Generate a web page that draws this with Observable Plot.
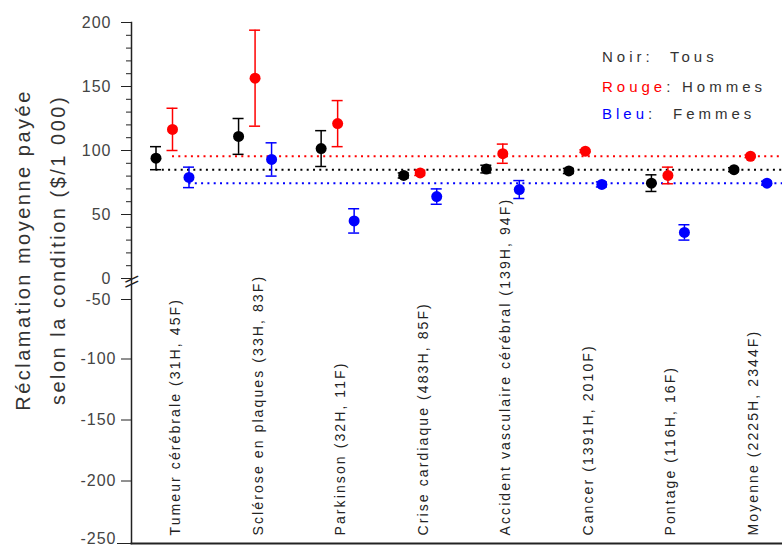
<!DOCTYPE html>
<html>
<head>
<meta charset="utf-8">
<script src="https://cdn.jsdelivr.net/npm/d3@7"></script>
<script src="https://cdn.jsdelivr.net/npm/@observablehq/plot@0.6"></script>
<style>
  body { margin: 0; background: #fff; overflow: hidden; }
  #wrap { position: relative; width: 782px; height: 548px; font-family: "Liberation Sans", Arial, sans-serif; }
  #legend div { position: absolute; font-size: 15px; letter-spacing: 4px; color: #333; white-space: nowrap; line-height: 15px; }
</style>
</head>
<body>
<div id="wrap"><div id="chart"></div><div id="legend"></div></div>
<script>
const categories = [
  "Tumeur cérébrale (31H, 45F)",
  "Sclérose en plaques (33H, 83F)",
  "Parkinson (32H, 11F)",
  "Crise cardiaque (483H, 85F)",
  "Accident vasculaire cérébral (139H, 94F)",
  "Cancer (1391H, 2010F)",
  "Pontage (116H, 16F)",
  "Moyenne (2225H, 2344F)"
];
const tous      = [94, 111, 101.5, 80.5, 85.5, 84, 74.5, 85];
const tousErr   = [9, 14, 14, 2, 3, 2, 6.5, 1.5];
const hommes    = [116.5, 156.5, 121, 82.5, 97.5, 99.5, 80.5, 95.5];
const hommesErr = [16.5, 37.5, 18, 2, 7.5, 1, 6.5, 1];
const femmes    = [79, 93, 45, 64, 69.5, 73.5, 36, 74.5];
const femmesErr = [8, 13, 9.5, 6, 7, 2, 6, 1.5];

const yTicksUpper = [-50, 0, 50, 100, 150, 200];
const yTicksLower = [-200, -150, -100];
const yTickBottom = [-250];
const yMinorTicks = [10, 20, 30, 40, 60, 70, 80, 90, 110, 120, 130, 140, 160, 170, 180, 190];
const breakMarks = [0, -12];

const legendNames  = ["Noir", "Rouge", "Bleu"];
const legendValues = ["Tous", "Hommes", "Femmes"];
const seriesColors = ["#000000", "#ff0000", "#0000ff"];
const yTitle = "Réclamation moyenne payée\nselon la condition ($/1 000)";

const series = [
  {values: tous, err: tousErr, color: seriesColors[0], dx: -16.5},
  {values: hommes, err: hommesErr, color: seriesColors[1], dx: 0},
  {values: femmes, err: femmesErr, color: seriesColors[2], dx: 16.5}
];

const marks = [];
marks.push(Plot.frame({anchor: "left", stroke: "#222", strokeWidth: 1.5}));
marks.push(Plot.frame({anchor: "bottom", stroke: "#222", strokeWidth: 2}));
marks.push(Plot.axisY({ticks: yTicksUpper, tickSize: 10, tickPadding: 10, tickFormat: d => String(d), fontSize: 16, label: null, anchor: "left", stroke: "#222", fill: "#444"}));
marks.push(Plot.axisY({ticks: yTicksLower, tickSize: 10, tickPadding: 5, tickFormat: d => String(d), fontSize: 16, label: null, anchor: "left", stroke: "#222", fill: "#444", dy: -1.5}));
marks.push(Plot.axisY({ticks: yTickBottom, tickSize: 14, tickFormat: () => "", label: null, anchor: "left", stroke: "#222"}));
marks.push(Plot.axisY({ticks: yTickBottom, tickSize: 0, tickPadding: 15, tickFormat: d => String(d), fontSize: 16, label: null, anchor: "left", stroke: "none", fill: "#444", dy: -5}));
marks.push(Plot.axisY({ticks: yMinorTicks, tickSize: 5, tickFormat: () => "", label: null, anchor: "left", stroke: "#222"}));
marks.push(Plot.text(breakMarks, {y: d => d, frameAnchor: "left", text: () => "—", textAnchor: "middle", lineAnchor: "middle", rotate: -25, fontSize: 14, fontWeight: "bold", fill: "#222"}));

// reference (average) dotted lines, from the first group to the right edge
series.forEach(s => {
  const avg = s.values[s.values.length - 1];
  marks.push(Plot.ruleY([avg], {
    y: d => d,
    x1: () => categories[0],
    x2: () => categories[categories.length - 1],
    insetRight: -60,
    dx: s.dx,
    stroke: s.color, strokeWidth: 2, strokeDasharray: "2,4.3"
  }));
});

// error bars + caps + markers
series.forEach(s => {
  const rows = categories.map((c, i) => ({c, v: s.values[i], e: s.err[i]}));
  const withErr = rows.filter(r => r.e > 0);
  marks.push(Plot.ruleX(withErr, {x: "c", y1: r => r.v - r.e, y2: r => r.v + r.e, stroke: s.color, strokeWidth: 1.5, dx: s.dx}));
  marks.push(Plot.ruleY(withErr, {x1: "c", x2: "c", y: r => r.v + r.e, stroke: s.color, strokeWidth: 1.5, insetLeft: -5.5, insetRight: -5.5, dx: s.dx}));
  marks.push(Plot.ruleY(withErr, {x1: "c", x2: "c", y: r => r.v - r.e, stroke: s.color, strokeWidth: 1.5, insetLeft: -5.5, insetRight: -5.5, dx: s.dx}));
  marks.push(Plot.dot(rows, {x: "c", y: "v", r: 5.5, fill: s.color, stroke: null, dx: s.dx}));
});

// category labels
marks.push(Plot.text(categories, {x: d => d, frameAnchor: "bottom", text: d => d, rotate: -90, textAnchor: "start", lineAnchor: "middle", dx: 3, dy: -8, fontSize: 14, fill: "#222"}));

// y title
marks.push(Plot.text([yTitle], {frameAnchor: "left", text: d => d, rotate: -90, textAnchor: "middle", lineAnchor: "middle", lineHeight: 1.75, dx: -95, dy: -33, fontSize: 20, fill: "#333"}));

const chart = Plot.plot({
  width: 782,
  height: 548,
  marginLeft: 131,
  marginRight: 0,
  marginTop: 22,
  marginBottom: 5,
  style: {fontFamily: '"Liberation Sans", Arial, sans-serif', background: "#fff"},
  x: {type: "point", domain: categories, range: [172, 750], padding: 0, round: false, axis: null},
  y: {type: "linear", domain: [-250, -50, 0, 200], range: [543, 299, 278, 22], label: null},
  marks
});
document.getElementById("chart").appendChild(chart);

// letter spacing to match the reference's spaced typography
d3.select(chart).selectAll("text").each(function () {
  const t = this.textContent;
  if (categories.includes(t)) this.style.letterSpacing = "2.1px";
  else if (t.startsWith("Réclamation")) this.style.letterSpacing = "2.5px";
  else if (/^-?\d+$/.test(t)) this.style.letterSpacing = "1px";
});

// legend
const legendLeft = [670, 682, 673];
const legendTop = [57, 87, 114];
const legend = document.getElementById("legend");
legendNames.forEach((n, i) => {
  const a = document.createElement("div");
  a.style.left = "602px";
  a.style.top = (legendTop[i] - 8) + "px";
  a.innerHTML = `<span style="color:${i === 0 ? "#333" : seriesColors[i]}">${n}</span>:`;
  legend.appendChild(a);
  const b = document.createElement("div");
  b.style.left = legendLeft[i] + "px";
  b.style.top = (legendTop[i] - 8) + "px";
  b.textContent = legendValues[i];
  legend.appendChild(b);
});
</script>
</body>
</html>
